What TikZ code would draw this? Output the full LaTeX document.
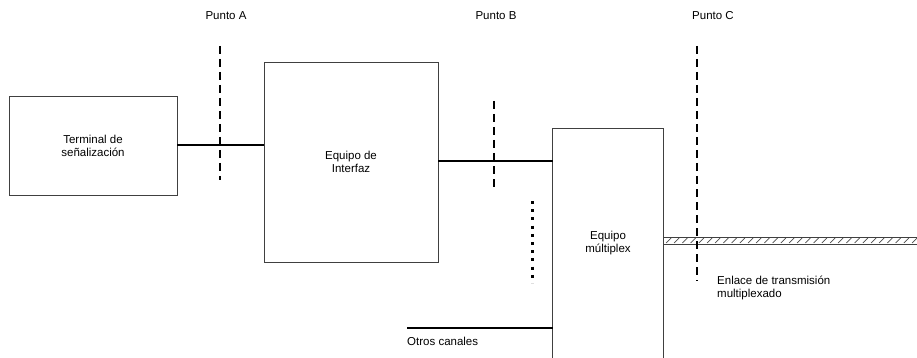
\documentclass[tikz,border=0pt]{standalone}
\usepackage{fontspec}
\setmainfont{Liberation Sans}
\usetikzlibrary{positioning}

\tikzset{
    caja/.style={draw=black!75, line width=0.9pt, align=center, font=\fontsize{11.5}{13}\selectfont},
    enlace/.style={line width=2pt},
    corte/.style={line width=2pt, dash pattern=on 8pt off 5pt},
    etiqueta/.style={font=\fontsize{11.5}{13}\selectfont, inner sep=0pt}
}

\begin{document}
\begin{tikzpicture}[x=1pt, y=-1pt]
    \useasboundingbox (0,0) rectangle (917,358);
    % bloques
    \node[caja, minimum width=168pt, minimum height=99pt] (term) at (93,145.5) {Terminal de\\se\~nalizaci\'on};
    \node[caja, minimum width=174pt, minimum height=200pt] (interfaz) at (351,162) {Equipo de\\Interfaz};
    \node[caja, draw=none, minimum width=110pt, minimum height=229pt] (mux) at (608,243.5) {Equipo\\m\'ultiplex};
    \draw[black!75, line width=0.9pt] (mux.south west) -- (mux.north west) -- (mux.north east) -- (mux.south east);
    % enlaces
    \draw[enlace] (term.east) -- (term.east -| interfaz.west);
    \draw[enlace] ([yshift=1pt]interfaz.east) -- ([yshift=1pt]interfaz.east -| mux.west);
    \coordinate (otros) at (407,328);
    \draw[enlace] (otros) -- (otros -| mux.west);
    \node[etiqueta, anchor=north west] (otroslbl) at (407,337) {Otros canales};
    \draw[line width=3pt, dash pattern=on 3pt off 5.2pt] (532,201) -- (532,283);
    % enlace multiplexado
    \coordinate (mx1) at (663,237);
    \coordinate (mx2) at (917,237);
    \draw[black!75, line width=0.9pt] (mx1) -- (mx2) ([yshift=-7pt]mx1) -- ([yshift=-7pt]mx2);
    \foreach \i in {0,...,30}
        \draw[black!70, line width=0.7pt] (666+8.2*\i,243) -- (671+8.2*\i,238);
    \node[etiqueta, anchor=north west, align=left] (enlacelbl) at (717,276) {Enlace de transmisi\'on\\multiplexado};
    % puntos de referencia
    \node[etiqueta] (pa) at (226,16) {Punto A};
    \node[etiqueta] (pb) at (496,16) {Punto B};
    \node[etiqueta] (pc) at (713,16) {Punto C};
    \draw[corte] (220,46) -- (220,180);
    \draw[corte] (494,101) -- (494,188);
    \draw[corte] (697,46) -- (697,281);
\end{tikzpicture}
\end{document}
